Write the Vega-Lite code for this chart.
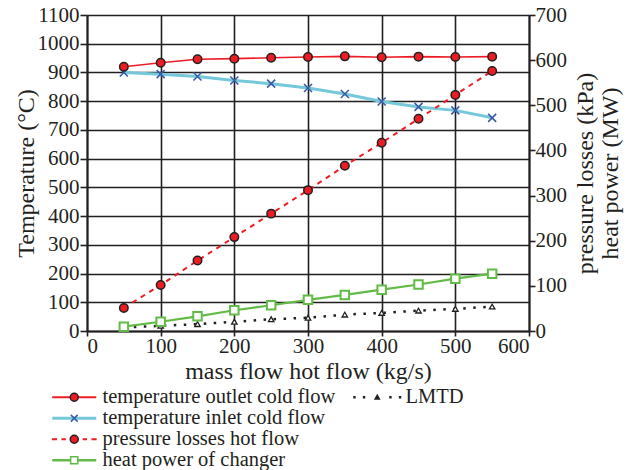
{
  "$schema": "https://vega.github.io/schema/vega-lite/v6.json",
  "width": 442,
  "height": 316,
  "autosize": "none",
  "padding": {"left": 87, "top": 15, "right": 104, "bottom": 139},
  "background": "white",
  "config": {
    "font": "Liberation Serif",
    "view": {"stroke": null},
    "axis": {
      "labelFont": "Liberation Serif",
      "labelFontSize": 21,
      "labelColor": "#231f20",
      "format": "d",
      "titleFont": "Liberation Serif",
      "titleFontSize": 24,
      "titleFontWeight": "normal",
      "titleColor": "#231f20",
      "domainColor": "#231f20",
      "domainWidth": 2,
      "tickColor": "#231f20",
      "tickWidth": 1.6,
      "gridColor": "#231f20",
      "gridWidth": 1.6,
      "gridOpacity": 1
    },
    "legend": {
      "labelFont": "Liberation Serif",
      "labelFontSize": 20.5,
      "labelColor": "#231f20",
      "labelLimit": 400,
      "symbolSize": 64,
      "rowPadding": -0.7,
      "labelOffset": 18,
      "orient": "none"
    }
  },
  "datasets": {
    "exchanger": [
      {"flow": 50, "series": "temperature outlet cold flow", "value": 920},
      {"flow": 100, "series": "temperature outlet cold flow", "value": 934},
      {"flow": 150, "series": "temperature outlet cold flow", "value": 946},
      {"flow": 200, "series": "temperature outlet cold flow", "value": 948},
      {"flow": 250, "series": "temperature outlet cold flow", "value": 951},
      {"flow": 300, "series": "temperature outlet cold flow", "value": 954},
      {"flow": 350, "series": "temperature outlet cold flow", "value": 956},
      {"flow": 400, "series": "temperature outlet cold flow", "value": 953},
      {"flow": 450, "series": "temperature outlet cold flow", "value": 955},
      {"flow": 500, "series": "temperature outlet cold flow", "value": 954},
      {"flow": 550, "series": "temperature outlet cold flow", "value": 955},
      {"flow": 50, "series": "temperature inlet cold flow", "value": 900},
      {"flow": 100, "series": "temperature inlet cold flow", "value": 894},
      {"flow": 150, "series": "temperature inlet cold flow", "value": 886},
      {"flow": 200, "series": "temperature inlet cold flow", "value": 872},
      {"flow": 250, "series": "temperature inlet cold flow", "value": 861},
      {"flow": 300, "series": "temperature inlet cold flow", "value": 846},
      {"flow": 350, "series": "temperature inlet cold flow", "value": 825},
      {"flow": 400, "series": "temperature inlet cold flow", "value": 799},
      {"flow": 450, "series": "temperature inlet cold flow", "value": 780},
      {"flow": 500, "series": "temperature inlet cold flow", "value": 768},
      {"flow": 550, "series": "temperature inlet cold flow", "value": 742},
      {"flow": 50, "series": "LMTD", "value": 12},
      {"flow": 100, "series": "LMTD", "value": 18},
      {"flow": 150, "series": "LMTD", "value": 24},
      {"flow": 200, "series": "LMTD", "value": 32},
      {"flow": 250, "series": "LMTD", "value": 41},
      {"flow": 300, "series": "LMTD", "value": 46},
      {"flow": 350, "series": "LMTD", "value": 57},
      {"flow": 400, "series": "LMTD", "value": 63},
      {"flow": 450, "series": "LMTD", "value": 71},
      {"flow": 500, "series": "LMTD", "value": 77},
      {"flow": 550, "series": "LMTD", "value": 85},
      {"flow": 50, "series": "pressure losses hot flow", "value": 51},
      {"flow": 100, "series": "pressure losses hot flow", "value": 102},
      {"flow": 150, "series": "pressure losses hot flow", "value": 156},
      {"flow": 200, "series": "pressure losses hot flow", "value": 208},
      {"flow": 250, "series": "pressure losses hot flow", "value": 260},
      {"flow": 300, "series": "pressure losses hot flow", "value": 312},
      {"flow": 350, "series": "pressure losses hot flow", "value": 366},
      {"flow": 400, "series": "pressure losses hot flow", "value": 417},
      {"flow": 450, "series": "pressure losses hot flow", "value": 470},
      {"flow": 500, "series": "pressure losses hot flow", "value": 523},
      {"flow": 550, "series": "pressure losses hot flow", "value": 576},
      {"flow": 50, "series": "heat power of changer", "value": 9.5},
      {"flow": 100, "series": "heat power of changer", "value": 20.5},
      {"flow": 150, "series": "heat power of changer", "value": 32.5},
      {"flow": 200, "series": "heat power of changer", "value": 46},
      {"flow": 250, "series": "heat power of changer", "value": 57},
      {"flow": 300, "series": "heat power of changer", "value": 69},
      {"flow": 350, "series": "heat power of changer", "value": 80},
      {"flow": 400, "series": "heat power of changer", "value": 91.5},
      {"flow": 450, "series": "heat power of changer", "value": 103},
      {"flow": 500, "series": "heat power of changer", "value": 116},
      {"flow": 550, "series": "heat power of changer", "value": 127}
    ]
  },
  "data": {"name": "exchanger"},
  "resolve": {
    "scale": {"y": "independent", "shape": "independent", "fill": "independent", "stroke": "independent"}
  },
  "layer": [
    {
      "encoding": {
        "x": {
          "field": "flow", "type": "quantitative",
          "scale": {"domain": [0, 600]},
          "axis": {
            "values": [0, 100, 200, 300, 400, 500, 600],
            "labelFont": "Liberation Serif",
            "grid": true, "tickSize": 5, "labelPadding": -1,
            "title": "mass flow hot flow (kg/s)", "titlePadding": 3
          }
        },
        "y": {
          "field": "value", "type": "quantitative",
          "scale": {"domain": [0, 1100]},
          "axis": {
            "values": [0, 100, 200, 300, 400, 500, 600, 700, 800, 900, 1000, 1100],
            "labelFont": "Liberation Serif",
            "grid": true, "tickSize": 7, "labelPadding": 1,
            "title": "Temperature (°C)", "titlePadding": -1
          }
        }
      },
      "layer": [
        {
          "transform": [{"filter": "datum.series === 'temperature inlet cold flow'"}],
          "mark": {
            "type": "line", "color": "#74c8da", "strokeWidth": 3,
            "point": {"shape": "M-1,-1L1,1M1,-1L-1,1", "size": 64, "filled": false, "stroke": "#3b5ba8", "strokeWidth": 1.6, "opacity": 1}
          }
        },
        {
          "transform": [{"filter": "datum.series === 'temperature outlet cold flow'"}],
          "mark": {
            "type": "line", "color": "#ec1c24", "strokeWidth": 1.6,
            "point": {"shape": "circle", "size": 72, "filled": true, "fill": "#ec1c24", "stroke": "#231f20", "strokeWidth": 1.5, "opacity": 1}
          }
        },
        {
          "transform": [{"filter": "datum.series === 'LMTD'"}],
          "mark": {
            "type": "line", "color": "#231f20", "strokeWidth": 2.5, "strokeDash": [2.5, 7.5],
            "point": {"shape": "triangle-up", "size": 30, "filled": true, "fill": "white", "stroke": "#231f20", "strokeWidth": 1.3, "opacity": 1}
          }
        }
      ]
    },
    {
      "encoding": {
        "x": {
          "field": "flow", "type": "quantitative",
          "scale": {"domain": [0, 600]},
          "axis": {
            "values": [0, 100, 200, 300, 400, 500, 600],
            "labelFont": "Liberation Serif",
            "grid": true, "tickSize": 5, "labelPadding": -1,
            "title": "mass flow hot flow (kg/s)", "titlePadding": 3
          }
        },
        "y": {
          "field": "value", "type": "quantitative",
          "scale": {"domain": [0, 700]},
          "axis": {
            "orient": "right",
            "values": [0, 100, 200, 300, 400, 500, 600, 700],
            "labelFont": "Liberation Serif",
            "grid": false, "tickSize": 6, "labelPadding": 0,
            "title": ["pressure losses (kPa)", "heat power (MW)"],
            "titleAngle": 270, "titleLineHeight": 25, "titlePadding": 6
          }
        }
      },
      "layer": [
        {
          "transform": [{"filter": "datum.series === 'heat power of changer'"}],
          "mark": {
            "type": "line", "color": "#62bb46", "strokeWidth": 2.2,
            "point": {"shape": "square", "size": 72, "filled": true, "fill": "white", "stroke": "#62bb46", "strokeWidth": 2, "opacity": 1}
          }
        },
        {
          "transform": [{"filter": "datum.series === 'pressure losses hot flow'"}],
          "mark": {
            "type": "line", "color": "#ec1c24", "strokeWidth": 2, "strokeDash": [5, 5],
            "point": {"shape": "circle", "size": 72, "filled": true, "fill": "#ec1c24", "stroke": "#231f20", "strokeWidth": 1.5, "opacity": 1}
          }
        }
      ]
    },
    {
      "transform": [{"filter": "false"}],
      "mark": {"type": "point", "filled": true, "opacity": 1, "strokeWidth": 0},
      "encoding": {
        "shape": {
          "field": "series", "type": "nominal",
          "scale": {
            "domain": ["temperature outlet cold flow", "temperature inlet cold flow", "pressure losses hot flow", "heat power of changer"],
            "range": [
              "M-5.5,-0.25H5.5V0.25H-5.5Z",
              "M-5.5,-0.4H5.5V0.4H-5.5Z",
              "M-5.6,-0.25H-4.3V0.25H-5.6Z M-3.2,-0.25H-2.1V0.25H-3.2Z M2.1,-0.25H3.2V0.25H2.1Z M4.3,-0.25H5.6V0.25H4.3Z",
              "M-5.5,-0.3H5.5V0.3H-5.5Z"
            ]
          },
          "legend": {"title": null, "legendX": -23, "legendY": 372, "symbolStrokeWidth": 0}
        },
        "fill": {
          "field": "series", "type": "nominal",
          "scale": {
            "domain": ["temperature outlet cold flow", "temperature inlet cold flow", "pressure losses hot flow", "heat power of changer"],
            "range": ["#ec1c24", "#74c8da", "#ec1c24", "#62bb46"]
          },
          "legend": {"title": null, "legendX": -23, "legendY": 372, "symbolStrokeWidth": 0}
        }
      }
    },
    {
      "transform": [{"filter": "false"}],
      "mark": {"type": "point", "filled": true, "opacity": 1, "strokeWidth": 1.5},
      "encoding": {
        "shape": {
          "field": "series", "type": "nominal",
          "scale": {
            "domain": ["temperature outlet cold flow", "temperature inlet cold flow", "pressure losses hot flow", "heat power of changer"],
            "range": [
              "M1,0A1,1 0 1,1 -1,0A1,1 0 1,1 1,0Z",
              "M-0.85,-0.85L0.85,0.85M0.85,-0.85L-0.85,0.85",
              "M1,0A1,1 0 1,1 -1,0A1,1 0 1,1 1,0Z",
              "M-0.9,-0.9H0.9V0.9H-0.9Z"
            ]
          },
          "legend": {"title": null, "legendX": -23, "legendY": 372, "labelColor": "transparent", "symbolStrokeWidth": 1.5}
        },
        "fill": {
          "field": "series", "type": "nominal",
          "scale": {
            "domain": ["temperature outlet cold flow", "temperature inlet cold flow", "pressure losses hot flow", "heat power of changer"],
            "range": ["#ec1c24", "transparent", "#ec1c24", "white"]
          },
          "legend": {"title": null, "legendX": -23, "legendY": 372, "labelColor": "transparent", "symbolStrokeWidth": 1.5}
        },
        "stroke": {
          "field": "series", "type": "nominal",
          "scale": {
            "domain": ["temperature outlet cold flow", "temperature inlet cold flow", "pressure losses hot flow", "heat power of changer"],
            "range": ["#231f20", "#3b5ba8", "#231f20", "#62bb46"]
          },
          "legend": {"title": null, "legendX": -23, "legendY": 372, "labelColor": "transparent", "symbolStrokeWidth": 1.5}
        }
      }
    },
    {
      "transform": [{"filter": "false"}],
      "mark": {"type": "point", "filled": true, "opacity": 1, "strokeWidth": 0},
      "encoding": {
        "shape": {
          "field": "series", "type": "nominal",
          "scale": {
            "domain": ["LMTD"],
            "range": ["M-6,-0.3h0.6v0.6h-0.6Z M-3.6,-0.3h0.6v0.6h-0.6Z M3,-0.3h0.6v0.6h-0.6Z M5.4,-0.3h0.6v0.6h-0.6Z M0,-0.9L0.85,0.65H-0.85Z"]
          },
          "legend": {"title": null, "legendX": 280, "legendY": 372, "symbolStrokeWidth": 0}
        },
        "fill": {
          "field": "series", "type": "nominal",
          "scale": {"domain": ["LMTD"], "range": ["#231f20"]},
          "legend": {"title": null, "legendX": 280, "legendY": 372, "symbolStrokeWidth": 0}
        }
      }
    }
  ]
}
